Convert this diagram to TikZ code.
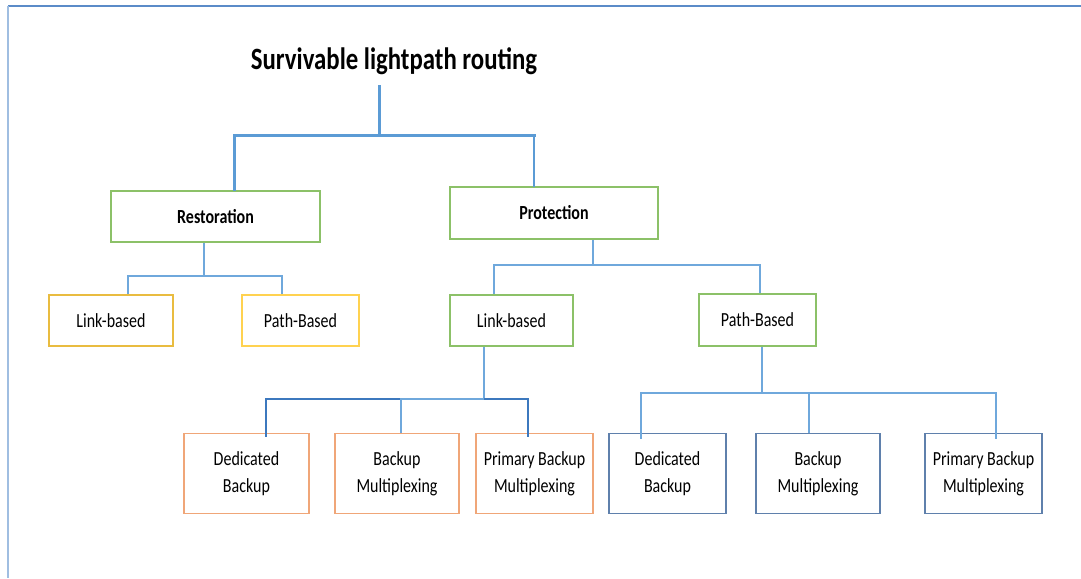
\documentclass[tikz,border=0pt]{standalone}
\usepackage{fontspec}
\setmainfont[FakeStretch=0.8]{Carlito}
\begin{document}
\begin{tikzpicture}[x=1pt,y=-1pt,
  box/.style={draw,line width=1.4pt,rectangle,inner sep=0pt,align=center,font=\fontsize{20}{27}\selectfont},
  grn/.style={box,draw={rgb,255:red,140;green,193;blue,104}},
  ylw/.style={box,draw={rgb,255:red,233;green,188;blue,64}},
  ylw2/.style={box,draw={rgb,255:red,255;green,210;blue,80}},
  org/.style={box,draw={rgb,255:red,240;green,166;blue,120}},
  blu/.style={box,draw={rgb,255:red,95;green,128;blue,172}},
  thickln/.style={draw={rgb,255:red,91;green,155;blue,213},line width=3pt},
  ln/.style={draw={rgb,255:red,111;green,168;blue,220},line width=1.5pt},
  darkln/.style={draw={rgb,255:red,60;green,120;blue,190},line width=2pt}]
\useasboundingbox (0,0) rectangle (1081,578);
\fill[white] (0,0) rectangle (1081,578);
% frame
\draw[draw={rgb,255:red,91;green,139;blue,200},line width=2.4pt] (8,6) -- (1081,6);
\draw[draw={rgb,255:red,160;green,190;blue,225},line width=1.8pt] (8,6) -- (8,578);
% title
\node[font=\fontsize{31}{36}\selectfont\bfseries] (title) at (394,61) {Survivable lightpath routing};
\coordinate (t1) at (379,85);
% level 1
\node[grn,minimum width=209pt,minimum height=51pt,font=\fontsize{20}{27}\selectfont\bfseries] (rest) at (215.5,216.5) {Restoration};
\node[grn,minimum width=208pt,minimum height=52pt,font=\fontsize{20}{27}\selectfont\bfseries] (prot) at (554,213) {Protection};
% level 2
\node[ylw,minimum width=124pt,minimum height=51pt] (lb1) at (111,320.5) {Link-based};
\node[ylw2,minimum width=117pt,minimum height=51pt] (pb1) at (300.5,320.5) {Path-Based};
\node[grn,minimum width=123pt,minimum height=51pt] (lb2) at (511.5,320.5) {Link-based};
\node[grn,minimum width=117pt,minimum height=52pt] (pb2) at (757.5,320) {Path-Based};
% level 3
\node[org,minimum width=125pt,minimum height=80pt] (d1) at (246.5,473.5) {Dedicated\\Backup};
\node[org,minimum width=124pt,minimum height=80pt] (bm1) at (397,473.5) {Backup\\Multiplexing};
\node[org,minimum width=117pt,minimum height=80pt] (pbm1) at (534.5,473.5) {Primary Backup\\Multiplexing};
\node[blu,minimum width=117pt,minimum height=80pt] (d2) at (667.5,473.5) {Dedicated\\Backup};
\node[blu,minimum width=124pt,minimum height=80pt] (bm2) at (818,473.5) {Backup\\Multiplexing};
\node[blu,minimum width=117pt,minimum height=80pt] (pbm2) at (983.5,473.5) {Primary Backup\\Multiplexing};
% connectors top
\coordinate (j0) at (379,135);
\coordinate (jr) at ([xshift=-20pt]prot.north |- j0);
\draw[thickln] (t1) -- (j0);
\draw[thickln] (j0) -| ([xshift=18.5pt,yshift=-1pt]rest.north);
\draw[thickln,line cap=rect] (j0) -- (jr);
\draw[thickln,line width=2pt] (jr) -- ([xshift=-20pt,yshift=-1pt]prot.north);
% restoration subtree
\coordinate (j1) at (204,276);
\draw[ln] ([xshift=-11.5pt]rest.south) -- (j1);
\draw[ln] (j1) -| ([xshift=17pt]lb1.north);
\draw[ln] (j1) -| ([xshift=-18.5pt]pb1.north);
% protection subtree
\coordinate (j2) at (593,265);
\draw[ln] ([xshift=39pt]prot.south) -- (j2);
\draw[ln] (j2) -| ([xshift=-17.5pt]lb2.north);
\draw[ln] (j2) -| ([xshift=2.5pt]pb2.north);
% link-based subtree
\coordinate (j3) at (484,399);
\draw[ln] ([xshift=-27.5pt]lb2.south) -- (j3);
\draw[darkln] (j3) -| ([xshift=19.5pt,yshift=-4pt]d1.north);
\draw[ln] (j3) -| ([xshift=4pt]bm1.north);
\draw[darkln] (j3) -| ([xshift=-6.5pt,yshift=-4pt]pbm1.north);
% path-based subtree
\coordinate (j4) at (762,393);
\draw[ln] ([xshift=4.5pt]pb2.south) -- (j4);
\draw[ln] (j4) -| ([xshift=-26.5pt,yshift=-6pt]d2.north);
\draw[ln] (j4) -| ([xshift=-9pt]bm2.north);
\draw[ln] (j4) -| ([xshift=12.5pt,yshift=-6pt]pbm2.north);
\end{tikzpicture}
\end{document}
